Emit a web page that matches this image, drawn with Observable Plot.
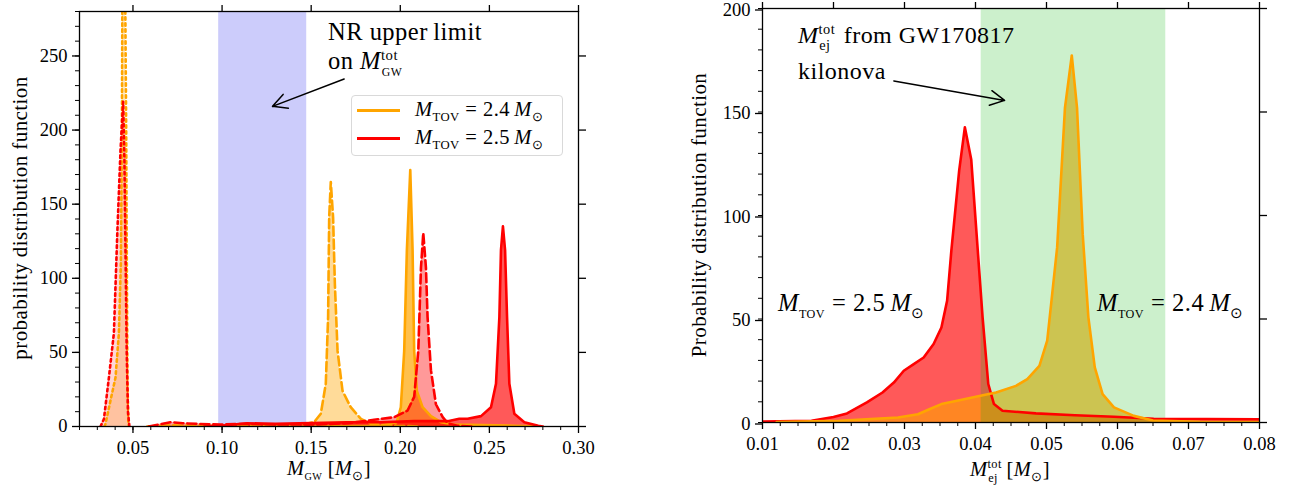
<!DOCTYPE html>
<html><head><meta charset="utf-8">
<script src="https://cdn.jsdelivr.net/npm/d3@7"></script>
<script src="https://cdn.jsdelivr.net/npm/@observablehq/plot@0.6"></script>
<style>
body{margin:0;background:#fff}
#wrap{position:relative;width:1298px;height:492px;font-family:"Liberation Serif",serif;color:#000;overflow:hidden}
#wrap svg{position:absolute;top:0}
.t{position:absolute;white-space:nowrap;line-height:1;letter-spacing:0.02em}
.ctr{transform:translateX(-50%)}
.sb{font-size:0.62em;position:relative;top:0.4em;letter-spacing:0.03em}
.stk{display:inline-block;position:relative;height:0;font-size:0.6em}
.stk .up{position:absolute;left:0;top:-1.45em;line-height:1}
.stk .dn{position:absolute;left:0.05em;top:-0.35em;line-height:1}
.sc{font-size:0.8em}
.eq{margin:0 0.28em}
.legend{position:absolute;border:1.5px solid #d9d9d9;border-radius:4px;background:rgba(255,255,255,0.8);box-sizing:border-box}
.lline{position:absolute;height:2.5px}
</style></head><body><div id="wrap"></div>
<script>
// ---------------- data: left panel (M_GW) ----------------
const gwOrangeDottedX = [0.0340, 0.0346, 0.0374, 0.0402, 0.0421, 0.0432, 0.0438, 0.0441, 0.0449, 0.0456, 0.0462, 0.0466, 0.0469, 0.0474, 0.0477];
const gwOrangeDottedY = [0, 1.8, 17.6, 33, 63, 110, 200, 300, 340, 300, 200, 100, 30, 3, 0];
const gwRedDottedX = [0.0318, 0.0337, 0.0365, 0.0393, 0.0412, 0.0430, 0.0445, 0.0452, 0.0458, 0.0465, 0.0472, 0.0480];
const gwRedDottedY = [0, 5, 33, 63, 130, 186, 219, 180, 120, 50, 10, 0];
const gwOrangeDashedX = [0.058, 0.07, 0.09, 0.11, 0.13, 0.145, 0.1516, 0.1554, 0.1582, 0.1595, 0.1601, 0.161, 0.1623, 0.1633, 0.1648, 0.1676, 0.1722, 0.1779, 0.1835, 0.198, 0.21];
const gwOrangeDashedY = [0, 0.8, 0.6, 0.7, 0.8, 1.2, 2.9, 8.6, 28.8, 73.9, 141, 165, 141, 96, 51, 24, 13, 5.2, 1.8, 0.5, 0];
const gwOrangeSolidX = [0.15, 0.189, 0.198, 0.2003, 0.2022, 0.2037, 0.2056, 0.2069, 0.2078, 0.2093, 0.2125, 0.2172, 0.2228, 0.2303, 0.264, 0.279];
const gwOrangeSolidY = [0, 0.5, 2.9, 13, 51, 119, 173, 119, 51, 24, 13, 7, 2.9, 1.3, 0.5, 0];
const gwRedDashedX = [0.0589, 0.065, 0.0711, 0.078, 0.086, 0.099, 0.114, 0.13, 0.15, 0.1704, 0.1853, 0.1966, 0.2041, 0.2078, 0.2101, 0.2116, 0.2129, 0.2144, 0.2153, 0.2172, 0.22, 0.2238, 0.2266, 0.232, 0.24];
const gwRedDashedY = [0, 1.5, 2.9, 2.2, 1.8, 1.3, 1.8, 1.3, 1.3, 2.2, 4.5, 6.3, 10.8, 20, 51, 107, 130.6, 107, 74, 38, 15, 6.3, 2.2, 0.5, 0];
const gwRedSolidX = [0.09, 0.099, 0.114, 0.13, 0.17, 0.189, 0.2078, 0.2266, 0.2331, 0.2378, 0.2453, 0.2509, 0.2537, 0.2556, 0.2565, 0.2576, 0.2588, 0.2599, 0.2612, 0.264, 0.2696, 0.2774, 0.28];
const gwRedSolidY = [0, 0.5, 2.2, 1.8, 2.9, 2.9, 3.6, 3.6, 5.2, 5.2, 7, 13, 28.8, 73.9, 119, 135, 119, 74, 28.8, 8.6, 2.9, 0.5, 0];
const nrBand = [0.0981, 0.1475];
const leftYTicks = [0, 50, 100, 150, 200, 250];
const leftXTicks = [0.05, 0.10, 0.15, 0.20, 0.25, 0.30];

// ---------------- data: right panel (M_ej) ----------------
const ejRedX = [0.010, 0.0169, 0.020, 0.0219, 0.0247, 0.0269, 0.0285, 0.0299, 0.0313, 0.0327, 0.0341, 0.0352, 0.0360, 0.0366, 0.0377, 0.0385, 0.0394, 0.0403, 0.0410, 0.0418, 0.0426, 0.0438, 0.0485, 0.054, 0.0595, 0.0651, 0.08];
const ejRedY = [0.5, 0.8, 2.7, 4.4, 9.7, 14.5, 19.3, 25, 28.2, 31.4, 37.9, 45.9, 58.8, 83, 121.7, 142.6, 127, 84, 50.8, 18.6, 8.9, 5.7, 4.4, 3.5, 2.8, 1.8, 1.5];
const ejOrangeX = [0.012, 0.0208, 0.0291, 0.0319, 0.0335, 0.0352, 0.0374, 0.0407, 0.0429, 0.0457, 0.0473, 0.049, 0.0501, 0.0507, 0.0515, 0.0526, 0.05356, 0.0543, 0.0551, 0.0559, 0.0568, 0.0579, 0.0595, 0.0623, 0.065, 0.0716, 0.08];
const ejOrangeY = [0.2, 0.8, 2.4, 4, 6.4, 8.9, 10.5, 12.9, 14.5, 17.7, 21, 27.4, 39.5, 58.8, 84.6, 152, 177.3, 152, 91, 50.8, 26.6, 13.7, 7.3, 3.2, 1, 0.3, 0.2];
const kilonovaBand = [0.0408, 0.0668];
const rightYTicks = [0, 50, 100, 150, 200];
const rightXTicks = [0.01, 0.02, 0.03, 0.04, 0.05, 0.06, 0.07, 0.08];

// annotation arrows (data coordinates)
const nrArrowFrom = [0.1685, 234.5], nrArrowTo = [0.1283, 216];
const knArrowFrom = [0.0285, 165], knArrowTo = [0.0441, 155.6];

const zip = (xs, ys) => xs.map((x, i) => ({x, y: ys[i]}));
const style = {fontFamily: "Liberation Serif, serif", fontSize: "18.5px", color: "black", background: "transparent", overflow: "visible"};
const blank = () => "";
const dot = "2.6,3.4", dash = "9,4";

const area = (xs, ys, fill, op) => Plot.areaY(zip(xs, ys), {x: "x", y: "y", fill, fillOpacity: op, clip: true});
const line = (xs, ys, stroke, da) => Plot.line(zip(xs, ys), {x: "x", y: "y", stroke, strokeWidth: 2.6, strokeDasharray: da, clip: true});

const left = Plot.plot({
  width: 640, height: 492, marginLeft: 79, marginRight: 62, marginTop: 11, marginBottom: 66,
  x: {domain: [0.02, 0.30]}, y: {domain: [0, 280]}, style,
  marks: [
    Plot.rect([{x1: nrBand[0], x2: nrBand[1], y1: 0, y2: 280}], {x1: "x1", x2: "x2", y1: "y1", y2: "y2", fill: "#ccccfb"}),
    area(gwOrangeDottedX, gwOrangeDottedY, "orange", 0.25),
    area(gwRedDottedX, gwRedDottedY, "red", 0.16),
    area(gwOrangeDashedX, gwOrangeDashedY, "orange", 0.4),
    area(gwOrangeSolidX, gwOrangeSolidY, "orange", 0.7),
    area(gwRedDashedX, gwRedDashedY, "red", 0.4),
    area(gwRedSolidX, gwRedSolidY, "red", 0.65),
    line(gwOrangeDottedX, gwOrangeDottedY, "orange", dot),
    line(gwRedDottedX, gwRedDottedY, "red", dot),
    line(gwOrangeDashedX, gwOrangeDashedY, "orange", dash),
    line(gwOrangeSolidX, gwOrangeSolidY, "orange", null),
    line(gwRedDashedX, gwRedDashedY, "red", dash),
    line(gwRedSolidX, gwRedSolidY, "red", null),
    Plot.arrow([{x1: nrArrowFrom[0], y1: nrArrowFrom[1], x2: nrArrowTo[0], y2: nrArrowTo[1]}], {x1: "x1", y1: "y1", x2: "x2", y2: "y2", stroke: "black", strokeWidth: 1.5, headLength: 16, headAngle: 55}),
    Plot.axisY(leftYTicks, {anchor: "left", tickSize: 7, tickPadding: 5, label: null, strokeWidth: 1.3}),
    Plot.axisY(d3.range(0, 281, 10), {anchor: "left", tickSize: 4, tickFormat: blank, label: null, strokeWidth: 1}),
    Plot.axisY(leftYTicks, {anchor: "right", tickSize: 7, tickFormat: blank, label: null, strokeWidth: 1.3}),
    Plot.axisX(leftXTicks, {anchor: "bottom", tickSize: 7, tickPadding: 7, tickFormat: d3.format(".2f"), label: null, strokeWidth: 1.3}),
    Plot.axisX(d3.range(2, 31).map(d => d / 100), {anchor: "bottom", tickSize: 4, tickFormat: blank, label: null, strokeWidth: 1}),
    Plot.axisX(leftXTicks, {anchor: "top", tickSize: 7, tickFormat: blank, label: null, strokeWidth: 1.3}),
    Plot.frame({stroke: "black", strokeWidth: 1.3})
  ]
});

const right = Plot.plot({
  width: 658, height: 492, marginLeft: 122, marginRight: 39, marginTop: 8, marginBottom: 70,
  x: {domain: [0.01, 0.08]}, y: {domain: [0, 200]}, style,
  marks: [
    area(ejRedX, ejRedY, "red", 0.65),
    area(ejOrangeX, ejOrangeY, "orange", 0.6),
    Plot.rect([{x1: kilonovaBand[0], x2: kilonovaBand[1], y1: 0, y2: 200}], {x1: "x1", x2: "x2", y1: "y1", y2: "y2", fill: "#00b400", fillOpacity: 0.2}),
    line(ejRedX, ejRedY, "red", null),
    line(ejOrangeX, ejOrangeY, "orange", null),
    Plot.arrow([{x1: knArrowFrom[0], y1: knArrowFrom[1], x2: knArrowTo[0], y2: knArrowTo[1]}], {x1: "x1", y1: "y1", x2: "x2", y2: "y2", stroke: "black", strokeWidth: 1.5, headLength: 16, headAngle: 55}),
    Plot.axisY(rightYTicks, {anchor: "left", tickSize: 7, tickPadding: 5, label: null, strokeWidth: 1.3, dy: 1.5}),
    Plot.axisY(d3.range(0, 201, 10), {anchor: "left", tickSize: 4, tickFormat: blank, label: null, strokeWidth: 1}),
    Plot.axisY(rightYTicks, {anchor: "right", tickSize: 7, tickFormat: blank, label: null, strokeWidth: 1.3}),
    Plot.axisX(rightXTicks, {anchor: "bottom", tickSize: 7, tickPadding: 7, tickFormat: d3.format(".2f"), label: null, strokeWidth: 1.3}),
    Plot.axisX(d3.range(40, 321, 10).map(d => d / 4000), {anchor: "bottom", tickSize: 4, tickFormat: blank, label: null, strokeWidth: 1}),
    Plot.axisX(rightXTicks, {anchor: "top", tickSize: 7, tickFormat: blank, label: null, strokeWidth: 1.3}),
    Plot.frame({stroke: "black", strokeWidth: 1.3})
  ]
});

const wrap = document.getElementById("wrap");
left.style.left = "0px";
right.style.left = "640px";
wrap.appendChild(left);
wrap.appendChild(right);

// ---------------- text overlays ----------------
const M = `<i>M</i>`;
const sub = s => `<span class="sb">${s}</span>`;
const stack = (up, dn, w) => `<span class="stk" style="width:${w}em"><span class="up">${up}</span><span class="dn">${dn}</span></span>`;
const sun = `${M}${sub("⊙")}`;
const eq = `<span class="eq">=</span>`;

function place(html, x, baseline, size, cls = "") {
  const d = document.createElement("div");
  d.className = "t " + cls;
  d.style.fontSize = size + "px";
  d.style.left = x + "px";
  d.style.top = (baseline - 0.8375 * size) + "px";
  d.innerHTML = html;
  wrap.appendChild(d);
  return d;
}
function rotated(html, cx, cy, size) {
  const d = document.createElement("div");
  d.className = "t";
  d.style.fontSize = size + "px";
  d.style.left = cx + "px";
  d.style.top = cy + "px";
  d.style.transformOrigin = "0 0";
  d.style.transform = "rotate(-90deg) translate(-50%,-50%)";
  d.innerHTML = html;
  wrap.appendChild(d);
}

// left panel
rotated("probability distribution function", 20, 218, 21);
place(`${M}${sub('<span class="sc">GW</span>')} [${sun}]`, 329, 475, 20.5, "ctr");
place("NR upper&thinsp;limit", 328, 41, 24.5);
place(`on ${M}${stack("tot", '<span class="sc">GW</span>', 1.3)}`, 328, 70, 24.5);

// legend
const lg = document.createElement("div");
lg.className = "legend";
Object.assign(lg.style, {left: "351px", top: "95px", width: "212px", height: "61px"});
wrap.appendChild(lg);
[["orange", 109, "2.4"], ["red", 137, "2.5"]].forEach(([c, y, v]) => {
  const l = document.createElement("div");
  l.className = "lline";
  Object.assign(l.style, {left: "357px", top: y + "px", width: "43px", background: c});
  wrap.appendChild(l);
  place(`${M}${sub("TOV")}${eq}${v}&thinsp;${sun}`, 415, y + 7, 20.5);
});

// right panel
rotated("Probability distribution function", 699, 215, 21);
place(`${M}${stack("tot", "ej", 1.1)} [${sun}]`, 1010, 476, 20.5, "ctr");
place(`${M}${stack("tot", "ej", 1.3)} from GW170817`, 798, 43, 24);
place("kilonova", 798, 79, 24);
place(`${M}${sub('<span class="sc">TOV</span>')}${eq}2.5&thinsp;${sun}`, 778, 312, 24.5);
place(`${M}${sub('<span class="sc">TOV</span>')}${eq}2.4&thinsp;${sun}`, 1097, 312, 24.5);
</script>
</body></html>
